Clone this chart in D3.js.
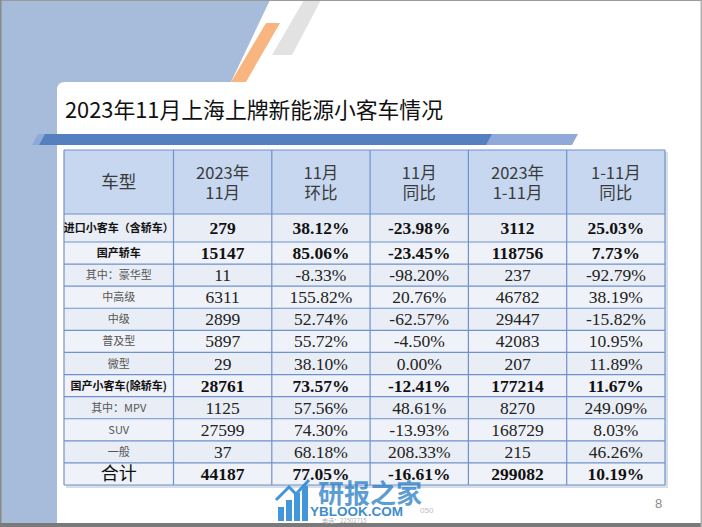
<!DOCTYPE html>
<html><head><meta charset="utf-8">
<script src="https://cdn.jsdelivr.net/npm/d3@7"></script>
<style>html,body{margin:0;padding:0;background:#fff;}svg{display:block;}</style>
</head><body>
<script>
// ---- data ----
const title = "2023年11月上海上牌新能源小客车情况";
const headers = [["车型"], ["2023年", "11月"], ["11月", "环比"], ["11月", "同比"], ["2023年", "1-11月"], ["1-11月", "同比"]];
const categories = ["进口小客车（含轿车）", "国产轿车", "其中：豪华型", "中高级", "中级", "普及型", "微型", "国产小客车(除轿车)", "其中：MPV", "SUV", "一般", "合计"];
const nov2023 = [279, 15147, 11, 6311, 2899, 5897, 29, 28761, 1125, 27599, 37, 44187];
const novMoM = ["38.12%", "85.06%", "-8.33%", "155.82%", "52.74%", "55.72%", "38.10%", "73.57%", "57.56%", "74.30%", "68.18%", "77.05%"];
const novYoY = ["-23.98%", "-23.45%", "-98.20%", "20.76%", "-62.57%", "-4.50%", "0.00%", "-12.41%", "48.61%", "-13.93%", "208.33%", "-16.61%"];
const ytd2023 = [3112, 118756, 237, 46782, 29447, 42083, 207, 177214, 8270, 168729, 215, 299082];
const ytdYoY = ["25.03%", "7.73%", "-92.79%", "38.19%", "-15.82%", "10.95%", "11.89%", "11.67%", "249.09%", "8.03%", "46.26%", "10.19%"];
const boldRows = [true, true, false, false, false, false, false, true, false, false, false, true];
const pageNumber = "8";

// ---- layout ----
const W = 702, H = 527;
const svg = d3.select("body").append("svg").attr("width", W).attr("height", H);

// slide decoration
svg.append("rect").attr("width", W).attr("height", H).attr("fill", "#fff");
svg.append("path").attr("d", "M0,0 L270,0 L220,105 L57,105 L57,523 L0,523 Z").attr("fill", "#A7BCDB");
svg.append("path").attr("d", "M304,0 L321,0 L292,55 L272,55 Z").attr("fill", "#E2E2E2");
svg.append("path").attr("d", "M266,23 L280,23 L246,82 L231,82 Z").attr("fill", "#F9B57F");
svg.append("path").attr("d", "M57,523 L57,90 Q57,82 65,82 L702,82 L702,523 Z").attr("fill", "#fff");
// header bar
svg.append("path").attr("d", "M38,134 L578,134 L572,145 L32,145 Z").attr("fill", "#8FAAD8");
svg.append("path").attr("d", "M45,134 L492,134 L486,145 L39,145 Z").attr("fill", "#5580C0");
// borders of slide
svg.append("rect").attr("x", 0).attr("y", 0).attr("width", W).attr("height", 1).attr("fill", "#9a9a9a");
svg.append("rect").attr("x", 0).attr("y", 0).attr("width", 1.5).attr("height", H).attr("fill", "#8a8a8a");
svg.append("rect").attr("x", 0).attr("y", 523).attr("width", W).attr("height", 4).attr("fill", "#7a7a7a");
svg.append("rect").attr("x", 700.5).attr("y", 0).attr("width", 1.5).attr("height", H).attr("fill", "#b0b0b0");

svg.append("text").attr("x", 65).attr("y", 118)
  .attr("font-family", "'Noto Sans CJK SC', sans-serif").attr("font-size", 22)
  .attr("textLength", 378).attr("lengthAdjust", "spacingAndGlyphs")
  .attr("fill", "#111").text(title);

// table geometry
const tableLeft = 64, firstColRight = 173.5, tableRight = 665;
const headerTop = 150, headerBottom = 214, row0Bottom = 242, tableBottom = 485;
const cols = [nov2023, novMoM, novYoY, ytd2023, ytdYoY];
const xCol = d3.scaleBand().domain(d3.range(cols.length)).range([firstColRight, tableRight]);
const yRow = d3.scaleBand().domain(d3.range(1, categories.length)).range([row0Bottom, tableBottom]);
const rowTop = i => i === 0 ? headerBottom : yRow(i);
const rowH = i => i === 0 ? row0Bottom - headerBottom : yRow.bandwidth();
const colX = j => j === 0 ? tableLeft : xCol(j - 1);
const colW = j => j === 0 ? firstColRight - tableLeft : xCol.bandwidth();

const g = svg.append("g");
// shadow
g.append("rect").attr("x", tableLeft + 2).attr("y", headerTop + 2).attr("width", tableRight - tableLeft + 1).attr("height", tableBottom - headerTop + 1).attr("fill", "#d8dde6");
// header cells
g.append("rect").attr("x", tableLeft).attr("y", headerTop).attr("width", tableRight - tableLeft).attr("height", headerBottom - headerTop).attr("fill", "#C6D7EF");
// body rows
categories.forEach((c, i) => {
  g.append("rect").attr("x", tableLeft).attr("y", rowTop(i)).attr("width", tableRight - tableLeft).attr("height", rowH(i))
    .attr("fill", i % 2 === 0 ? "#E9EDF5" : "#EFF2F8");
});
// grid lines
const lineColor = "#6F92CE";
const hLines = [headerTop, headerBottom].concat(d3.range(1, categories.length).map(i => yRow(i)), [tableBottom]);
hLines.forEach(y => g.append("line").attr("x1", tableLeft).attr("x2", tableRight).attr("y1", y).attr("y2", y).attr("stroke", lineColor).attr("stroke-width", 1.2));
const vLines = [tableLeft].concat(d3.range(cols.length).map(j => xCol(j)), [tableRight]);
vLines.forEach(x => g.append("line").attr("x1", x).attr("x2", x).attr("y1", headerTop).attr("y2", tableBottom).attr("stroke", lineColor).attr("stroke-width", 1.2));

// header text
headers.forEach((lines, j) => {
  const cx = colX(j) + colW(j) / 2;
  const t = g.append("text").attr("text-anchor", "middle")
    .attr("font-family", "'Noto Sans CJK SC', sans-serif").attr("font-size", j === 0 ? 17.5 : 16.5)
    .attr("fill", "#3a3a3a");
  if (lines.length === 1) {
    t.append("tspan").attr("x", cx).attr("y", (headerTop + headerBottom) / 2 + 6).text(lines[0]);
  } else {
    t.append("tspan").attr("x", cx).attr("y", 179).text(lines[0]);
    t.append("tspan").attr("x", cx).attr("y", 199).text(lines[1]);
  }
});

// body text
categories.forEach((c, i) => {
  const cy = rowTop(i) + rowH(i) / 2;
  const bold = boldRows[i];
  const isTotal = i === categories.length - 1;
  g.append("text").attr("x", colX(0) + colW(0) / 2).attr("y", cy + (isTotal ? 6.5 : 4))
    .attr("text-anchor", "middle")
    .attr("font-family", "'Noto Sans CJK SC', sans-serif")
    .attr("font-size", isTotal ? 18 : 11)
    .attr("font-weight", isTotal ? 400 : (bold ? 700 : 400))
    .attr("fill", isTotal ? "#111" : (bold ? "#111" : "#555"))
    .text(c);
  cols.forEach((arr, j) => {
    g.append("text").attr("x", xCol(j) + xCol.bandwidth() / 2).attr("y", cy + 6)
      .attr("text-anchor", "middle")
      .attr("font-family", "'Liberation Serif', 'Times New Roman', serif")
      .attr("font-size", 17.5)
      .attr("font-weight", bold ? 700 : 400)
      .attr("fill", bold ? "#111" : "#222")
      .text(arr[i]);
  });
});

// page number
svg.append("text").attr("x", 655).attr("y", 508).attr("font-family", "'Liberation Sans', Arial, sans-serif")
  .attr("font-size", 13).attr("fill", "#8a8a8a").text(pageNumber);

// watermark
const wm = svg.append("g").attr("opacity", 0.9);
const barsX = [278, 286, 294, 302];
const barsH = [14, 21, 28, 35];
barsX.forEach((x, k) => wm.append("rect").attr("x", x).attr("y", 521 - barsH[k]).attr("width", 6).attr("height", barsH[k]).attr("fill", "#2E8BD6"));
wm.append("path").attr("d", "M276,500 L289,487 L296,494 L309,480").attr("fill", "none").attr("stroke", "#2E8BD6").attr("stroke-width", 3);
wm.append("text").attr("x", 318).attr("y", 503).attr("font-family", "'Noto Sans CJK SC', sans-serif").attr("font-size", 26).attr("font-weight", 700)
  .attr("fill", "#2A7FC8").attr("fill-opacity", 0.85).text("研报之家");
wm.append("text").attr("x", 310).attr("y", 515.5).attr("font-family", "'Liberation Sans', Arial, sans-serif").attr("font-size", 13.5).attr("font-weight", 700)
  .attr("fill", "#2A7FC8").text("YBLOOK.COM");
wm.append("text").attr("x", 420).attr("y", 513).attr("font-family", "'Liberation Sans', Arial, sans-serif").attr("font-size", 8)
  .attr("fill", "#b5b5b5").text("050");
wm.append("text").attr("x", 322).attr("y", 523).attr("font-family", "'Noto Sans CJK SC', sans-serif").attr("font-size", 6)
  .attr("fill", "#aaa").text("电话：22502715");
</script>
</body></html>
